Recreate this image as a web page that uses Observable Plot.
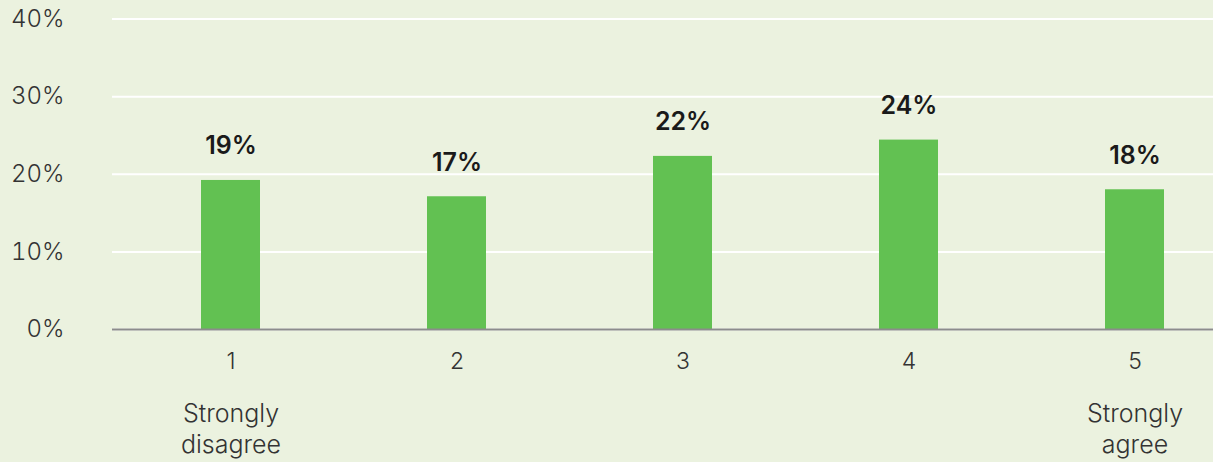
<!DOCTYPE html>
<html>
<head>
<meta charset="utf-8">
<script src="https://cdn.jsdelivr.net/npm/d3@7"></script>
<script src="https://cdn.jsdelivr.net/npm/@observablehq/plot@0.6"></script>
<style>
  html, body { margin: 0; padding: 0; background: #ebf2df; }
  #chart svg { display: block; }
</style>
</head>
<body>
<div id="chart"></div>
<script>
const categories = ["1", "2", "3", "4", "5"];
const shares = [19.2, 17.1, 22.3, 24.4, 18.0];
const valueLabels = ["19%", "17%", "22%", "24%", "18%"];
const endLabels = ["Strongly\ndisagree", "", "", "", "Strongly\nagree"];
const yTicks = [0, 10, 20, 30, 40];

const data = categories.map((c, i) => ({cat: c, share: shares[i], label: valueLabels[i], end: endLabels[i]}));

const chart = Plot.plot({
  width: 1213,
  height: 462,
  marginLeft: 112,
  marginRight: 0,
  marginTop: 18.5,
  marginBottom: 133,
  style: {background: "#ebf2df", fontFamily: "Inter, 'Noto Sans', sans-serif", color: "#3a3a3a"},
  x: {type: "band", domain: categories, range: [117, 1247], paddingInner: 0.74, paddingOuter: 0.37},
  y: {domain: [0, 40]},
  marks: [
    Plot.ruleY(yTicks, {stroke: "#ffffff", strokeWidth: 2}),
    Plot.barY(data, {x: "cat", y: "share", fill: "#62c152"}),
    Plot.ruleY([0], {stroke: "#8c8c8c", strokeWidth: 2}),
    Plot.text(data, {x: "cat", y: "share", text: "label", lineAnchor: "bottom", dy: -26,
      fontSize: 25, fontWeight: 600, fill: "#1a1a1a"}),
    Plot.axisY({ticks: yTicks, tickFormat: d => d + "%", tickSize: 0, tickPadding: 48,
      fontSize: 24, fontWeight: 300, fill: "#333333", label: null}),
    Plot.axisX({tickSize: 0, tickPadding: 23, fontSize: 23, fontWeight: 300, fill: "#333333", label: null}),
    Plot.text(data.filter(d => d.end), {x: "cat", text: "end", frameAnchor: "bottom", lineAnchor: "top",
      dy: 70, fontSize: 25, fontWeight: 300, lineHeight: 1.24, fill: "#333333"})
  ]
});
document.getElementById("chart").appendChild(chart);
</script>
</body>
</html>
